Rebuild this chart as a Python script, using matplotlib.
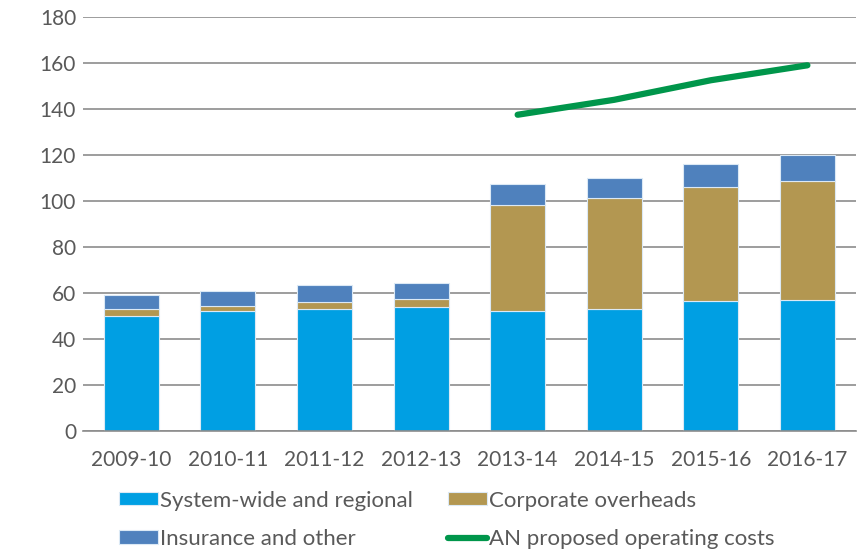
import numpy as np
import matplotlib
matplotlib.use("Agg")
from matplotlib import pyplot as plt

# Data
years = ["2009-10", "2010-11", "2011-12", "2012-13", "2013-14", "2014-15", "2015-16", "2016-17"]
system_wide = [50, 52, 53, 54, 52, 53, 56.5, 57]
corporate = [3, 2.3, 3, 3.2, 46.3, 48.3, 49.5, 51.5]
insurance = [6, 6.6, 7.3, 7.3, 9, 8.8, 10, 11.5]
an_years = ["2013-14", "2014-15", "2015-16", "2016-17"]
an_proposed = [137.5, 144, 152.5, 159]

plt.rcParams['font.family'] = ['Lato', 'DejaVu Sans']
txt = "#595959"

fig = plt.figure(figsize=(8.6, 5.5), dpi=100)
ax = fig.add_axes([0.0965, 0.2164, 0.8985, 0.7527])

x = np.arange(len(years))
w = 0.57
edge = dict(edgecolor="#dbe9f5", linewidth=0.8)
b1 = ax.bar(x, system_wide, w, color="#009fe3", label="System-wide and regional", **edge)
bottom2 = np.array(system_wide)
b2 = ax.bar(x, corporate, w, bottom=bottom2, color="#b39751", label="Corporate overheads", **edge)
bottom3 = bottom2 + np.array(corporate)
b3 = ax.bar(x, insurance, w, bottom=bottom3, color="#4f81bd", label="Insurance and other", **edge)

xl = [years.index(y) for y in an_years]
ln, = ax.plot(xl, an_proposed, color="#00964b", lw=4.5, solid_capstyle="round",
              label="AN proposed operating costs")

ax.set_xlim(-0.5, len(years) - 0.5)
ax.set_ylim(0, 180)
ax.set_yticks(range(0, 181, 20))
ax.set_xticks(x)
ax.set_xticklabels(years)
ax.grid(axis="y", color="#8c8c8c", lw=1.2)
ax.set_axisbelow(True)
for s in ["top", "right", "left"]:
    ax.spines[s].set_visible(False)
ax.spines["bottom"].set_color("#8c8c8c")
ax.spines["bottom"].set_linewidth(1.2)
ax.tick_params(axis="both", length=0, labelsize=15, colors=txt)
ax.tick_params(axis="x", pad=14)
ax.tick_params(axis="y", pad=5)

# row-wise order: matplotlib fills legend columns first
fig.legend([b1, b3, b2, ln],
           ["System-wide and regional", "Insurance and other",
            "Corporate overheads", "AN proposed operating costs"],
           ncol=2, loc="upper left", bbox_to_anchor=(0.138, 0.108),
           frameon=False, fontsize=16, handlelength=1.75, handleheight=0.55,
           handletextpad=0.1, columnspacing=1.6, labelspacing=0.82,
           borderaxespad=0, borderpad=0, labelcolor=txt)

fig.savefig("out.png", dpi=100)
